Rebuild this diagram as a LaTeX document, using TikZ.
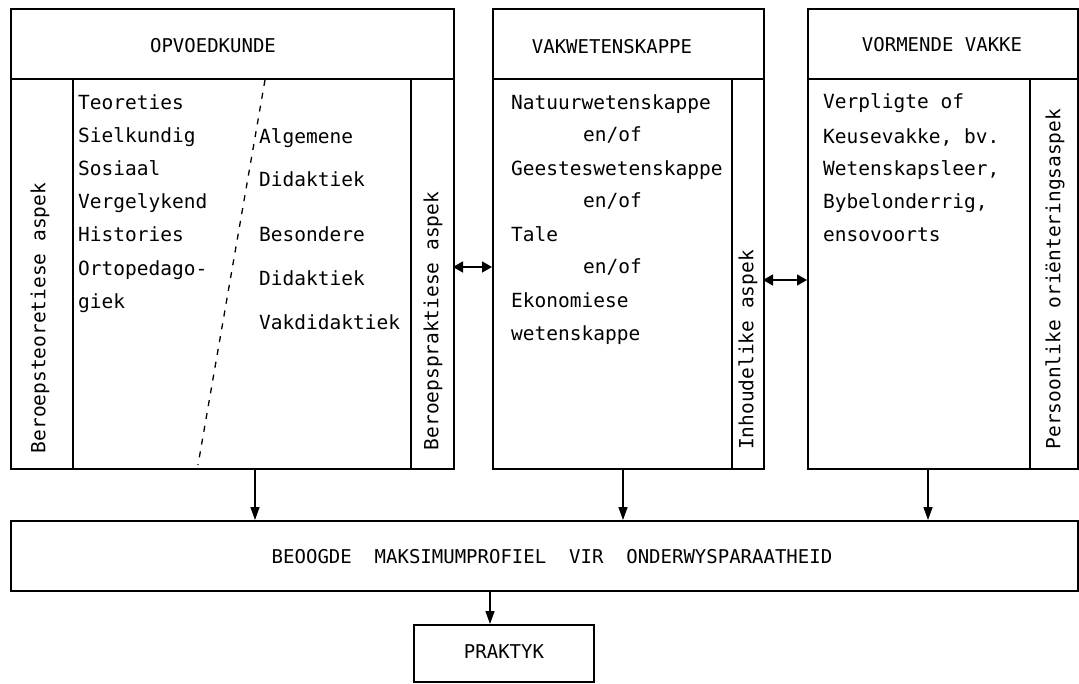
\documentclass[tikz,border=0pt]{standalone}
\usepackage{fontspec}
\newfontfamily\mono{DejaVu Sans Mono}
\usetikzlibrary{arrows.meta}
\begin{document}
\begin{tikzpicture}[x=1pt,y=-1pt,
  cell/.style={draw, line width=1.8pt, inner sep=0pt, anchor=north west},
  txt/.style={font=\mono\fontsize{19.5}{22}\selectfont, inner sep=0pt, anchor=base west},
  captxt/.style={font=\mono\fontsize{19}{22}\selectfont, inner sep=0pt},
  vlab/.style={font=\mono\fontsize{19.5}{22}\selectfont, inner sep=0pt, rotate=90},
  arr/.style={line width=1.4pt, -{Triangle[length=13pt,width=9pt]}},
  darr/.style={line width=1.4pt, {Triangle[length=10pt,width=11pt]}-{Triangle[length=10pt,width=11pt]}},
  divline/.style={line width=1.3pt, dash pattern=on 6pt off 7pt}]
\useasboundingbox (0,0) rectangle (1079,683);

% ---- box 1: OPVOEDKUNDE
\node[cell, minimum width=443, minimum height=70] (h1) at (10,8) {};
\node[cell, minimum width=443, minimum height=390] (b1) at (10,78) {};
\node[cell, minimum width=62, minimum height=390] (b1l) at (10,78) {};
\node[cell, minimum width=43, minimum height=390] (b1r) at (410,78) {};
\node[captxt] (t1) at (213,46) {OPVOEDKUNDE};
\node[vlab] (v1) at (40,318) {Beroepsteoretiese aspek};
\node[vlab] (v2) at (433,321) {Beroepspraktiese aspek};
\foreach \w [count=\i] in {Teoreties,Sielkundig,Sosiaal,Vergelykend,Histories,Ortopedago-,giek}
  \node[txt] (pa\i) at (78,{109.5+33.1*(\i-1)}) {\w};
\node[txt] (pb1) at (259,143.5) {Algemene};
\node[txt] (pb2) at (259,186.5) {Didaktiek};
\node[txt] (pb3) at (259,241.5) {Besondere};
\node[txt] (pb4) at (259,285.5) {Didaktiek};
\node[txt] (pb5) at (259,329.5) {Vakdidaktiek};
\coordinate (dtop) at (265,80);
\coordinate (dbot) at (198,465);
\draw[divline] (dtop) -- (dbot);

% ---- box 2: VAKWETENSKAPPE
\node[cell, minimum width=271, minimum height=70] (h2) at (492,8) {};
\node[cell, minimum width=271, minimum height=390] (b2) at (492,78) {};
\node[cell, minimum width=32, minimum height=390] (b2r) at (731,78) {};
\node[captxt] (t2) at (612,47) {VAKWETENSKAPPE};
\node[vlab] (v3) at (748,350) {Inhoudelike aspek};
\node[txt] (q1) at (511,109.5) {Natuurwetenskappe};
\node[txt] (q2) at (583,141.5) {en/of};
\node[txt] (q3) at (511,175.5) {Geesteswetenskappe};
\node[txt] (q4) at (583,207.5) {en/of};
\node[txt] (q5) at (511,241.5) {Tale};
\node[txt] (q6) at (583,273.5) {en/of};
\node[txt] (q7) at (511,307.5) {Ekonomiese};
\node[txt] (q8) at (511,340.5) {wetenskappe};

% ---- box 3: VORMENDE VAKKE
\node[cell, minimum width=270, minimum height=70] (h3) at (807,8) {};
\node[cell, minimum width=270, minimum height=390] (b3) at (807,78) {};
\node[cell, minimum width=48, minimum height=390] (b3r) at (1029,78) {};
\node[captxt] (t3) at (942,45) {VORMENDE VAKKE};
\node[vlab] (v4) at (1055,279) {Persoonlike oriënteringsaspek};
\node[txt] (r1) at (823,108.5) {Verpligte of};
\node[txt] (r2) at (823,143.5) {Keusevakke, bv.};
\node[txt] (r3) at (823,175.5) {Wetenskapsleer,};
\node[txt] (r4) at (823,208.5) {Bybelonderrig,};
\node[txt] (r5) at (823,241.5) {ensovoorts};

% ---- bottom boxes
\node[cell, minimum width=1067, minimum height=70] (beo) at (10,520) {};
\node[captxt] (tb) at (552,557) {BEOOGDE\ \ MAKSIMUMPROFIEL\ \ VIR\ \ ONDERWYSPARAATHEID};
\node[cell, minimum width=180, minimum height=57] (prak) at (413,624) {};
\node[captxt] (tp) at (504,652) {PRAKTYK};

% ---- connectors
\coordinate (s1) at (255,468);
\coordinate (s2) at (623,468);
\coordinate (s3) at (928,468);
\coordinate (s4) at (490,590);
\draw[arr] (s1) -- (s1 |- beo.north);
\draw[arr] (s2) -- (s2 |- beo.north);
\draw[arr] (s3) -- (s3 |- beo.north);
\draw[arr] (s4) -- (s4 |- prak.north);
\coordinate (d1) at (453,267);
\coordinate (d2) at (763,280);
\draw[darr] (d1) -- (d1 -| b2.west);
\draw[darr] (d2) -- (d2 -| b3.west);
\end{tikzpicture}
\end{document}
